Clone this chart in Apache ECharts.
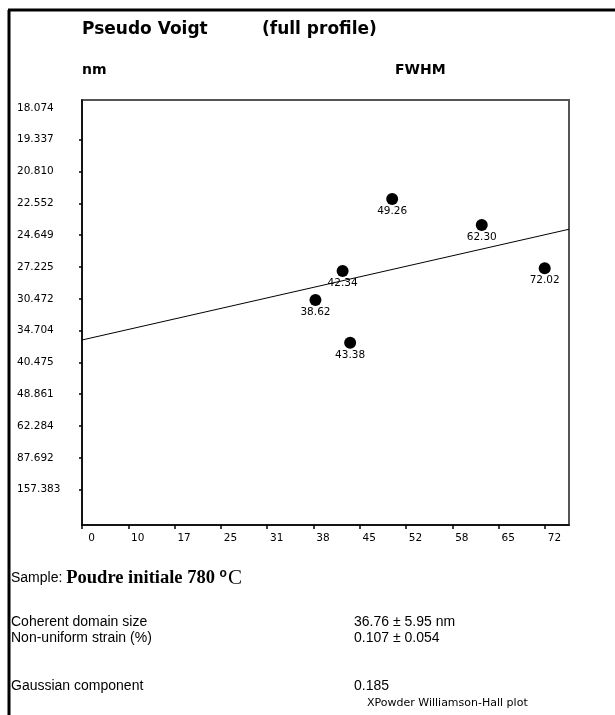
<!DOCTYPE html>
<html>
<head>
<meta charset="utf-8">
<script src="https://cdn.jsdelivr.net/npm/echarts@6/dist/echarts.min.js"></script>
<style>
  html, body { margin: 0; padding: 0; background: #fff; }
  #chart { width: 615px; height: 715px; }
</style>
</head>
<body>
<div id="chart"></div>
<script>
// Williamson-Hall data: peak positions (2θ, degrees) and broadening (level units)
const twoTheta = [38.62, 42.34, 43.38, 49.26, 62.30, 72.02];
const betaCos  = [5.96, 6.87, 4.62, 9.14, 8.32, 6.96];
const pointLabels = ['38.62', '42.34', '43.38', '49.26', '62.30', '72.02'];

// Axis tick labels
const xTickLabels = ['0', '10', '17', '25', '31', '38', '45', '52', '58', '65', '72'];
// size (nm) labels at broadening levels 0 .. 12 (bottom to top)
const yTickLabels = ['157.383', '87.692', '62.284', '48.861', '40.475', '34.704',
                     '30.472', '27.225', '24.649', '22.552', '20.810', '19.337', '18.074'];

// Fitted line  beta·cosθ = a + b·sinθ
const fitIntercept = 4.2665;
const fitSlope = 6.371;

// sinθ scale of the horizontal axis
const X_MIN = 0.06868;
const X_STEP = 0.05195;
const X_MAX = X_MIN + 10.52 * X_STEP;
const Y_MIN = -1.113;
const Y_MAX = 12.25;

const sinTheta = twoTheta.map(t => Math.sin(t / 2 * Math.PI / 180));
const points = sinTheta.map((s, i) => ({ value: [s, betaCos[i]], label: { formatter: pointLabels[i] } }));
const xTickValues = xTickLabels.map((_, k) => X_MIN + k * X_STEP);
const yLabelValues = yTickLabels.map((_, k) => k);
const yTickValues = yLabelValues.slice(0, -1);
const fitLine = [X_MIN, X_MAX].map(s => [s, fitIntercept + fitSlope * s]);

const SANS = '"Liberation Sans", Arial, sans-serif';
const WIDE = '"DejaVu Sans", Verdana, sans-serif';
const SERIF = '"Liberation Serif", "Times New Roman", serif';

const chart = echarts.init(document.getElementById('chart'), null, { renderer: 'canvas' });
chart.setOption({
  animation: false,
  backgroundColor: '#fff',
  grid: {
    left: 82, top: 100, right: 46, bottom: 190,
    show: true, borderColor: '#555', borderWidth: 2, backgroundColor: 'transparent'
  },
  xAxis: {
    type: 'value', min: X_MIN, max: X_MAX,
    splitLine: { show: false },
    axisLine: { show: true, onZero: false, lineStyle: { color: '#000', width: 1.5 } },
    axisTick: { show: true, customValues: xTickValues, length: 4, inside: false, lineStyle: { color: '#000', width: 1.5 } },
    axisLabel: {
      customValues: xTickValues,
      formatter: v => xTickLabels[Math.round((v - X_MIN) / X_STEP)],
      color: '#000', fontFamily: WIDE, fontSize: 10.5, margin: 8,
      align: 'center', padding: [0, 0, 0, 19]
    }
  },
  yAxis: {
    type: 'value', min: Y_MIN, max: Y_MAX,
    splitLine: { show: false },
    axisLine: { show: true, onZero: false, lineStyle: { color: '#000', width: 1.5 } },
    axisTick: { show: true, customValues: yTickValues, length: 3, lineStyle: { color: '#000', width: 1.5 } },
    axisLabel: {
      customValues: yLabelValues,
      formatter: v => yTickLabels[Math.round(v)],
      color: '#000', fontFamily: WIDE, fontSize: 10.5, margin: 65, align: 'left'
    }
  },
  series: [
    {
      type: 'line', data: fitLine, symbol: 'none', silent: true,
      lineStyle: { color: '#000', width: 1 }, z: 2
    },
    {
      type: 'scatter', data: points, symbol: 'circle', symbolSize: 12,
      itemStyle: { color: '#000', opacity: 1 },
      label: { show: true, position: 'bottom', distance: 1, color: '#000', fontFamily: WIDE, fontSize: 10.5 },
      z: 3
    }
  ],
  graphic: [
    { type: 'line', shape: { x1: 9, y1: 10, x2: 9, y2: 715 }, style: { stroke: '#000', lineWidth: 3 } },
    { type: 'line', shape: { x1: 8, y1: 10, x2: 615, y2: 10 }, style: { stroke: '#000', lineWidth: 3 } },
    { type: 'text', x: 82, y: 30, style: { text: 'Pseudo Voigt', font: 'bold 17px ' + WIDE, fill: '#000', textVerticalAlign: 'middle' } },
    { type: 'text', x: 262, y: 30, style: { text: '(full profile)', font: 'bold 17px ' + WIDE, fill: '#000', textVerticalAlign: 'middle' } },
    { type: 'text', x: 82, y: 70, style: { text: 'nm', font: 'bold 14px ' + WIDE, fill: '#000', textVerticalAlign: 'middle' } },
    { type: 'text', x: 395, y: 70, style: { text: 'FWHM', font: 'bold 14px ' + WIDE, fill: '#000', textVerticalAlign: 'middle' } },
    {
      type: 'text', x: 11, y: 578,
      style: {
        text: '{a|Sample: }{b|Poudre initiale 780 }{o|o}{c|C}',
        textVerticalAlign: 'middle',
        rich: {
          a: { fontFamily: SANS, fontSize: 14, color: '#000' },
          b: { fontFamily: SERIF, fontSize: 18.5, fontWeight: 'bold', color: '#000' },
          o: { fontFamily: SANS, fontSize: 12, fontWeight: 'bold', color: '#000', verticalAlign: 'top', padding: [0, 1, 8, 0] },
          c: { fontFamily: SERIF, fontSize: 21, color: '#000' }
        }
      }
    },
    { type: 'text', x: 11, y: 622, style: { text: 'Coherent domain size', font: '14px ' + SANS, fill: '#000', textVerticalAlign: 'middle' } },
    { type: 'text', x: 11, y: 638, style: { text: 'Non-uniform strain (%)', font: '14px ' + SANS, fill: '#000', textVerticalAlign: 'middle' } },
    { type: 'text', x: 354, y: 622, style: { text: '36.76 ± 5.95 nm', font: '14px ' + SANS, fill: '#000', textVerticalAlign: 'middle' } },
    { type: 'text', x: 354, y: 638, style: { text: '0.107 ± 0.054', font: '14px ' + SANS, fill: '#000', textVerticalAlign: 'middle' } },
    { type: 'text', x: 11, y: 686, style: { text: 'Gaussian component', font: '14px ' + SANS, fill: '#000', textVerticalAlign: 'middle' } },
    { type: 'text', x: 354, y: 686, style: { text: '0.185', font: '14px ' + SANS, fill: '#000', textVerticalAlign: 'middle' } },
    { type: 'text', x: 367, y: 703, style: { text: 'XPowder Williamson-Hall plot', font: '11px ' + WIDE, fill: '#000', textVerticalAlign: 'middle' } }
  ]
});
</script>
</body>
</html>
